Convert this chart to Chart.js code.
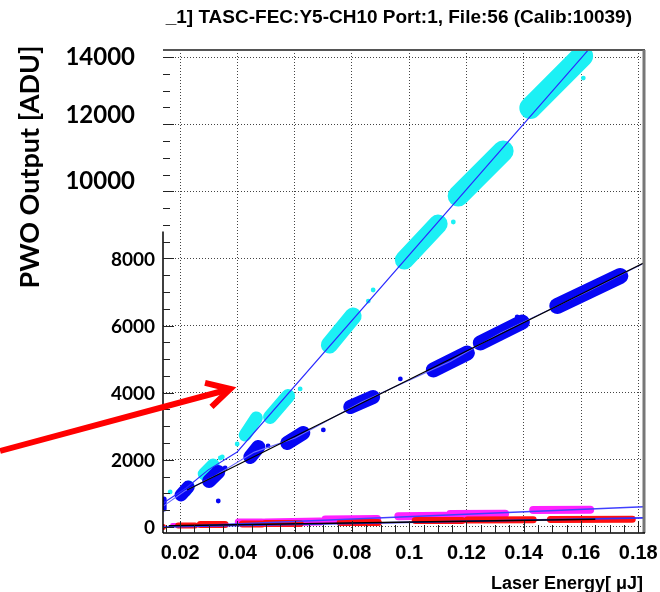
<!DOCTYPE html>
<html>
<head>
<meta charset="utf-8">
<script src="https://cdn.jsdelivr.net/npm/chart.js@4.4.1/dist/chart.umd.min.js"></script>
<style>
  html, body { margin: 0; padding: 0; background: #fff; }
  canvas { display: block; }
</style>
</head>
<body>
<canvas id="laserChart" width="660" height="592"></canvas>
<script>
// axis ticks
const xTicks = [0.02, 0.04, 0.06, 0.08, 0.1, 0.12, 0.14, 0.16, 0.18];
const yTicks = [0, 2000, 4000, 6000, 8000, 10000, 12000, 14000];
const xMinorStep = 0.005;
const yMinorStep = 500;

const cyanClusters = [
    [0.0221, 1072, 0.0231, 1221],
    [0.0284, 1579, 0.0315, 1847],
    [0.0427, 2740, 0.0466, 3247],
    [0.0514, 3277, 0.0577, 3902],
    [0.0721, 5421, 0.0804, 6285],
    [0.0983, 7953, 0.1101, 9025],
    [0.1171, 9860, 0.1328, 11200],
    [0.1423, 12481, 0.1604, 14030]
];
const blueClusters = [
    [0.0144, 536, 0.0144, 834],
    [0.0203, 953, 0.0228, 1191],
    [0.0301, 1370, 0.0333, 1638],
    [0.0445, 2085, 0.0473, 2383],
    [0.0574, 2502, 0.0630, 2800],
    [0.0794, 3574, 0.0874, 3872],
    [0.1084, 4677, 0.1203, 5183],
    [0.1248, 5481, 0.1395, 6106],
    [0.1517, 6583, 0.1737, 7477]
];
const magentaClusters = [
    [0.0172, 60, 0.0235, 60],
    [0.0403, 150, 0.0486, 150],
    [0.0497, 134, 0.0689, 160],
    [0.0707, 223, 0.0888, 235],
    [0.0962, 320, 0.1126, 335],
    [0.1143, 385, 0.1335, 395],
    [0.1433, 505, 0.1632, 515]
];
const redClusters = [
    [0.0140, 0, 0.0140, 0],
    [0.0193, 45, 0.0252, 45],
    [0.0270, 75, 0.0357, 75],
    [0.0417, 90, 0.0486, 90],
    [0.0497, 105, 0.0619, 105],
    [0.0759, 135, 0.0892, 135],
    [0.1021, 190, 0.1185, 195],
    [0.1203, 205, 0.1433, 215],
    [0.1493, 220, 0.1779, 230]
];

// stray shots outside the main blobs
const cyanOutliers = [[0.0165, 1043], [0.0340, 2055], [0.0347, 2085], [0.0399, 2472], [0.0619, 4111],
    [0.0857, 6730], [0.0874, 7060], [0.1154, 9085], [0.1335, 11140], [0.1412, 12362], [0.1608, 13375]];
const blueOutliers = [[0.0333, 774], [0.0357, 1757], [0.0507, 2413], [0.0700, 2890], [0.0969, 4409], [0.1377, 6255]];

// fit curves
const cyanFit = [[0.0141, 715], [0.0221, 1160], [0.0298, 1700], [0.0399, 2234], [0.1625, 14208]];
const blueFit = [[0.0141, 620], [0.0216, 1070], [0.0317, 1500], [0.0459, 2230], [0.0602, 2650],
    [0.0834, 3720], [0.1143, 4930], [0.1321, 5790], [0.1627, 7030], [0.182, 7860]];
const blackFit = [[0.0224, 1100], [0.182, 7870]];
const magentaFit = [[0.014, 0], [0.182, 600]];
const redFit = [[0.014, 0], [0.182, 270]];
const lowBlackFit = [[0.016, 35], [0.165, 230]];

// annotation arrow, tail -> tip
const arrow = [[-0.0429, 2264], [0.0375, 4111]];

// blob thickness in px (style only)
const cyanWidths = [11, 13, 13, 14, 17, 19, 21, 22];
const blueWidths = [5, 13, 14, 14, 14, 14, 15, 15, 16];
const redWidths = [6, 6, 7, 7, 7, 7, 7, 7, 7];
const magentaWidths = [4, 7, 8, 8, 8, 8, 8];

const clusterData = list => list.flatMap(([x1, y1, x2, y2]) => [{ x: x1, y: y1 }, { x: x2, y: y2 }, { x: x2, y: null }]);
const pts = list => list.map(([x, y]) => ({ x, y }));

const clusterSet = (list, color, widths, order) => ({
    data: clusterData(list),
    showLine: true,
    spanGaps: false,
    borderColor: color,
    borderWidth: widths[0],
    borderCapStyle: 'round',
    pointRadius: 0,
    segment: { borderWidth: ctx => widths[Math.floor(ctx.p0DataIndex / 3)] },
    order
});
const lineSet = (list, color, width, order) => ({
    data: pts(list),
    showLine: true,
    borderColor: color,
    borderWidth: width,
    pointRadius: 0,
    order
});
const dotSet = (list, color, order) => ({
    data: pts(list),
    showLine: false,
    pointRadius: 2.4,
    pointBorderWidth: 0,
    backgroundColor: color,
    order
});

const CYAN = '#1cf0f4';
const BLUE = '#0606f4';
const MAGENTA = '#ff22ff';
const RED = '#ff1010';

const decorations = {
    id: 'decorations',
    afterDraw(chart) {
        const { ctx, chartArea: a, scales: { x, y } } = chart;
        ctx.save();

        // frame
        ctx.strokeStyle = '#555';
        ctx.lineWidth = 2;
        ctx.beginPath();
        ctx.moveTo(a.left, a.top); ctx.lineTo(a.right + 1, a.top);
        ctx.stroke();
        ctx.strokeStyle = '#777';
        ctx.lineWidth = 3;
        ctx.beginPath();
        ctx.moveTo(a.right, a.top); ctx.lineTo(a.right, a.bottom);
        ctx.stroke();
        ctx.strokeStyle = '#000';
        ctx.lineWidth = 1.5;
        ctx.beginPath();
        ctx.moveTo(a.left, a.bottom); ctx.lineTo(a.right + 1, a.bottom);
        ctx.moveTo(a.left, y.getPixelForValue(8800)); ctx.lineTo(a.left, a.bottom);
        ctx.stroke();

        // minor and major ticks
        ctx.strokeStyle = '#222';
        ctx.lineWidth = 1;
        ctx.beginPath();
        for (let v = 0.015; v <= x.max + 1e-9; v += xMinorStep) {
            const px = Math.round(x.getPixelForValue(v)) + 0.5;
            const major = xTicks.some(t => Math.abs(t - v) < 1e-6);
            ctx.moveTo(px, a.bottom);
            ctx.lineTo(px, a.bottom - (major ? 12 : 8));
        }
        for (let v = 0; v <= 14000; v += yMinorStep) {
            const py = Math.round(y.getPixelForValue(v)) + 0.5;
            const major = v % 2000 === 0;
            ctx.moveTo(a.left, py);
            ctx.lineTo(a.left + (major ? 11 : 7), py);
        }
        ctx.stroke();

        // tick labels
        ctx.fillStyle = '#000';
        ctx.textBaseline = 'middle';
        ctx.textAlign = 'center';
        ctx.font = 'bold 20px "Liberation Sans", Arial, sans-serif';
        xTicks.forEach(v => ctx.fillText(String(v), x.getPixelForValue(v), 553));
        ctx.textAlign = 'right';
        const nudge = { 10000: -10, 12000: -9, 14000: 0 };
        yTicks.forEach(v => {
            const py = y.getPixelForValue(v);
            if (v >= 10000) {
                ctx.font = 'bold 24px Lato, "Open Sans", sans-serif';
                ctx.fillText(String(v), 135, py + nudge[v]);
            } else {
                ctx.font = 'bold 19px Lato, "Open Sans", sans-serif';
                ctx.fillText(String(v), 155, py + 1);
            }
        });

        // titles
        ctx.textBaseline = 'alphabetic';
        ctx.textAlign = 'right';
        ctx.font = 'bold 18px "Liberation Sans", Arial, sans-serif';
        ctx.fillText('Laser Energy[ \u03bcJ]', 643, 589);
        ctx.font = 'bold 19px "Liberation Sans", Arial, sans-serif';
        ctx.fillText('_1] TASC-FEC:Y5-CH10 Port:1, File:56 (Calib:10039)', 632, 23);
        ctx.save();
        ctx.translate(30, 167);
        ctx.rotate(-Math.PI / 2);
        ctx.textAlign = 'center';
        ctx.textBaseline = 'middle';
        ctx.font = 'bold 27px Lato, "Open Sans", sans-serif';
        ctx.fillText('PWO Output [ADU]', 0, 0);
        ctx.restore();

        // red arrow
        const [t0, t1] = arrow;
        const x0 = x.getPixelForValue(t0[0]), y0 = y.getPixelForValue(t0[1]);
        const x1 = x.getPixelForValue(t1[0]), y1 = y.getPixelForValue(t1[1]);
        const ang = Math.atan2(y1 - y0, x1 - x0);
        ctx.strokeStyle = '#ff0000';
        ctx.lineWidth = 6;
        ctx.lineCap = 'butt';
        ctx.lineJoin = 'miter';
        ctx.beginPath();
        ctx.moveTo(x0, y0);
        ctx.lineTo(x1 - 4 * Math.cos(ang), y1 - 4 * Math.sin(ang));
        ctx.stroke();
        ctx.beginPath();
        ctx.moveTo(x1 - 26 * Math.cos(ang - 0.5), y1 - 26 * Math.sin(ang - 0.5));
        ctx.lineTo(x1, y1);
        ctx.lineTo(x1 - 26 * Math.cos(ang + 0.5), y1 - 26 * Math.sin(ang + 0.5));
        ctx.stroke();

        ctx.restore();
    }
};

new Chart(document.getElementById('laserChart'), {
    type: 'scatter',
    data: {
        datasets: [
            lineSet(blackFit, '#000', 1.2, 1),
            lineSet(lowBlackFit, '#000', 1.4, 1),
            lineSet(cyanFit, '#2a2aff', 1.1, 2),
            lineSet(blueFit, '#6a6aff', 1.1, 2),
            lineSet(magentaFit, '#4040ff', 1.6, 2),
            lineSet(redFit, '#3030ff', 1.6, 2),
            dotSet(blueOutliers, BLUE, 3),
            clusterSet(blueClusters, BLUE, blueWidths, 3),
            dotSet(cyanOutliers, CYAN, 4),
            clusterSet(cyanClusters, CYAN, cyanWidths, 4),
            clusterSet(redClusters, RED, redWidths, 5),
            clusterSet(magentaClusters, MAGENTA, magentaWidths, 6)
        ]
    },
    options: {
        responsive: false,
        animation: false,
        events: [],
        layout: { autoPadding: false, padding: { left: 163, right: 16, top: 50, bottom: 59 } },
        plugins: { legend: { display: false }, title: { display: false }, tooltip: { enabled: false } },
        scales: {
            x: {
                type: 'linear',
                min: 0.014,
                max: 0.182,
                afterBuildTicks: s => { s.ticks = xTicks.map(v => ({ value: v })); },
                afterFit: s => { s.height = 0; },
                ticks: { display: false },
                grid: { color: '#444', lineWidth: 1, drawTicks: false },
                border: { display: false, dash: [1, 2] }
            },
            y: {
                type: 'linear',
                min: -180,
                max: 14210,
                afterBuildTicks: s => { s.ticks = yTicks.map(v => ({ value: v })); },
                afterFit: s => { s.width = 0; },
                ticks: { display: false },
                grid: { color: '#444', lineWidth: 1, drawTicks: false },
                border: { display: false, dash: [1, 2] }
            }
        }
    },
    plugins: [decorations]
});
</script>
</body>
</html>
